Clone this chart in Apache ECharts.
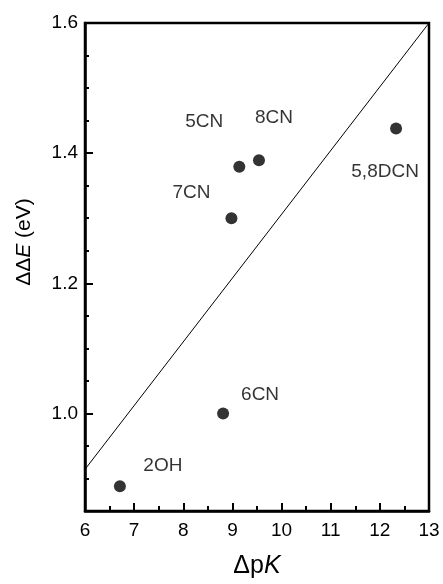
<!DOCTYPE html>
<html>
<head>
<meta charset="utf-8">
<script src="https://cdn.jsdelivr.net/npm/echarts@6/dist/echarts.min.js"></script>
<style>
  html, body { margin: 0; padding: 0; background: #fff; }
  #chart { width: 443px; height: 584px; }
</style>
</head>
<body>
<div id="chart"></div>
<script>
// compounds and their values
const names = ['2OH', '6CN', '7CN', '5CN', '8CN', '5,8DCN'];
const dpK = [6.71, 8.81, 8.98, 9.14, 9.54, 12.33];
const ddE = [0.888, 1.0, 1.300, 1.379, 1.389, 1.438];

// fitted line end points
const fitX = [6, 13];
const fitY = [0.914, 1.6];

// labelled y values
const yLabelValues = [1.0, 1.2, 1.4, 1.6];

const chart = echarts.init(document.getElementById('chart'));

// where each name sits relative to its dot
const labelOffsets = {
    '2OH': [43, -21],
    '6CN': [37, -19],
    '7CN': [-40, -25],
    '5CN': [-35, -45],
    '8CN': [15, -43],
    '5,8DCN': [-11, 43]
};

const font = 'Liberation Sans, Arial, sans-serif';

const points = names.map((n, i) => ({
    name: n,
    value: [dpK[i], ddE[i]],
    label: { offset: labelOffsets[n] }
}));

const option = {
    backgroundColor: '#fff',
    animation: false,
    grid: {
        left: 85, right: 14, top: 23, bottom: 70,
        show: true,
        borderColor: '#000',
        borderWidth: 2.5
    },
    xAxis: {
        type: 'value',
        min: 6, max: 13, interval: 1,
        name: '{a|Δp}{i|K}',
        nameLocation: 'middle',
        nameGap: 43,
        nameTextStyle: {
            rich: {
                a: { fontSize: 25, fontFamily: font, color: '#000' },
                i: { fontSize: 25, fontFamily: font, fontStyle: 'italic', color: '#000' }
            }
        },
        axisLine: { lineStyle: { color: '#000', width: 2.5 } },
        axisTick: { inside: true, length: 8, lineStyle: { color: '#000', width: 2 } },
        minorTick: { show: true, splitNumber: 2, length: 5, lineStyle: { color: '#000', width: 2 } },
        axisLabel: { color: '#000', fontSize: 19, fontFamily: font, margin: 10 },
        splitLine: { show: false },
        minorSplitLine: { show: false }
    },
    yAxis: [{
        type: 'value',
        min: 0.85, max: 1.6,
        name: '{a|ΔΔ}{i|E}{a| (eV)}',
        nameLocation: 'middle',
        nameRotate: 90,
        nameGap: 50,
        nameTextStyle: {
            padding: [0, 0, 0, 50],
            rich: {
                a: { fontSize: 21, fontFamily: font, color: '#000' },
                i: { fontSize: 21, fontFamily: font, fontStyle: 'italic', color: '#000' }
            }
        },
        axisLine: { lineStyle: { color: '#000', width: 2.5 } },
        axisTick: { inside: true, length: 8, customValues: yLabelValues, lineStyle: { color: '#000', width: 2 } },
        axisLabel: {
            color: '#000', fontSize: 19, fontFamily: font, margin: 7,
            customValues: yLabelValues,
            formatter: v => v.toFixed(1)
        },
        splitLine: { show: false }
    }, {
        type: 'value',
        min: 0.85, max: 1.6, interval: 0.05,
        position: 'left',
        axisLine: { show: false },
        axisTick: { inside: true, length: 4, lineStyle: { color: '#000', width: 2 } },
        axisLabel: { show: false },
        splitLine: { show: false }
    }],
    series: [{
        type: 'line',
        data: fitX.map((x, i) => [x, fitY[i]]),
        symbol: 'none',
        lineStyle: { color: '#000', width: 1 },
        silent: true
    }, {
        type: 'scatter',
        data: points,
        symbol: 'circle',
        symbolSize: 12,
        itemStyle: { color: '#000' },
        label: {
            show: true,
            position: 'inside',
            formatter: '{b}',
            color: '#000',
            fontSize: 19,
            fontFamily: font
        }
    }]
};

chart.setOption(option);
</script>
</body>
</html>
